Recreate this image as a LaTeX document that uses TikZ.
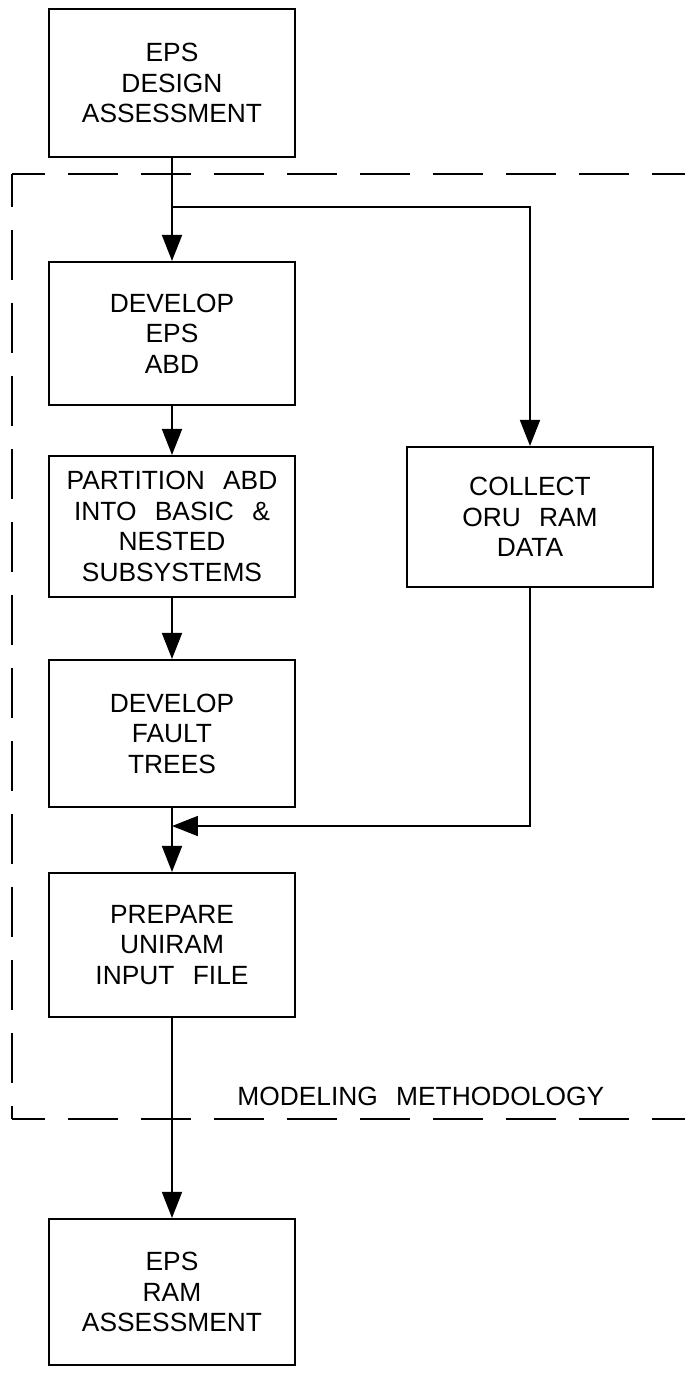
\documentclass[tikz,border=0pt]{standalone}
\usepackage{fontspec}
\setmainfont{Liberation Sans}[WordSpace=2.5]
\usetikzlibrary{arrows.meta}
\def\bw{4.92cm}
\def\txt{\fontsize{15}{17.4}\selectfont}

\begin{document}
\begin{tikzpicture}[x=0.02cm,y=-0.02cm,
  box/.style={draw,line width=1.2pt,minimum width=\bw,inner sep=0pt,align=center,font=\txt},
  flow/.style={line width=1pt,-{Triangle[length=0.52cm,width=0.4cm]}},
  frame/.style={line width=1.2pt,dash pattern=on 1cm off 0.46cm,dash phase=0.34cm}]
\useasboundingbox (0,0) rectangle (685,1373);

\node[box,minimum height=2.96cm] (design) at (172,83) {EPS\\DESIGN\\ASSESSMENT};
\node[box,minimum height=2.86cm] (abd) at (172,333.5) {DEVELOP\\EPS\\ABD};
\node[box,minimum height=2.82cm] (part) at (172,526.5) {PARTITION ABD\\INTO BASIC \&\\NESTED\\SUBSYSTEMS};
\node[box,minimum height=2.94cm] (fault) at (172,733.5) {DEVELOP\\FAULT\\TREES};
\node[box,minimum height=2.88cm] (prep) at (172,945) {PREPARE\\UNIRAM\\INPUT FILE};
\node[box,minimum height=2.8cm] (collect) at (530,517) {COLLECT\\ORU RAM\\DATA};
\node[box,minimum height=2.92cm] (result) at (172,1292) {EPS\\RAM\\ASSESSMENT};
\node[anchor=base west,inner sep=0pt,font=\txt] (method) at (237,1105) {MODELING METHODOLOGY};

\coordinate (tl) at (12,174);
\coordinate (tr) at (685,174);
\coordinate (bl) at (12,1119);
\coordinate (br) at (685,1119);
\coordinate (split) at (172,207);
\coordinate (join) at (172,826);

\draw[frame] (tl) -- (tr);
\draw[frame] (tl) -- (bl);
\draw[frame] (bl) -- (br);

\draw[flow] (design.south) -- (abd.north);
\draw[flow] (split) -| (collect.north);
\draw[flow] (abd.south) -- (part.north);
\draw[flow] (part.south) -- (fault.north);
\draw[flow] (fault.south) -- (prep.north);
\draw[flow] (collect.south) |- (join);
\draw[flow] (prep.south) -- (result.north);
\end{tikzpicture}
\end{document}
